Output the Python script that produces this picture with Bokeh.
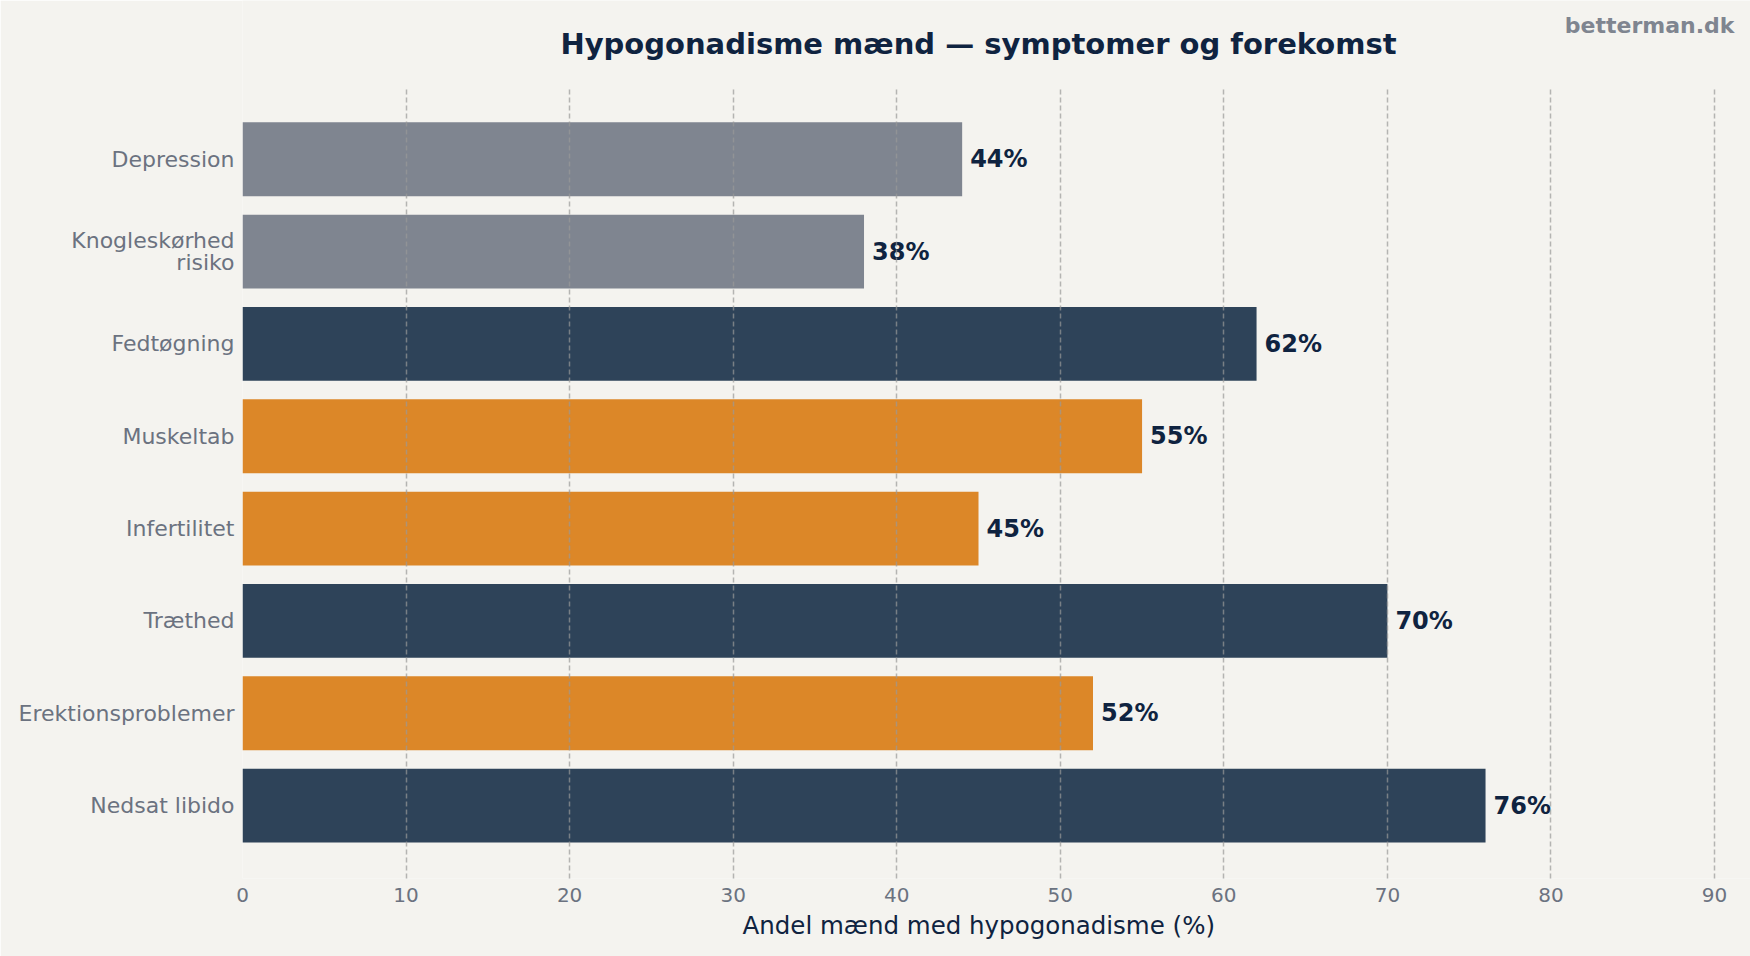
from bokeh.plotting import figure
from bokeh.models import Range1d, FixedTicker, Label, Title, ColumnDataSource
from bokeh.core.properties import value
from bokeh.embed import file_html
from bokeh.resources import INLINE

# ---- data (bottom to top) ----
categories = ["Nedsat libido", "Erektionsproblemer", "Træthed", "Infertilitet",
              "Muskeltab", "Fedtøgning", "Knogleskørhed\nrisiko", "Depression"]
values = [76, 52, 70, 45, 55, 62, 38, 44]
groups = ["primær", "reproduktiv", "primær", "reproduktiv",
          "reproduktiv", "primær", "sekundær", "sekundær"]
x_ticks = [0, 10, 20, 30, 40, 50, 60, 70, 80, 90]

title_text = "Hypogonadisme mænd — symptomer og forekomst"
x_label = "Andel mænd med hypogonadisme (%)"
watermark = "betterman.dk"

group_colors = {"primær": "#2E4359", "reproduktiv": "#DC8728", "sekundær": "#7F8590"}

BG = "#F4F3EF"
NAVY = "#0F2340"
GRAY_TXT = "#6B7280"
FONT = "DejaVu Sans"

ypos = list(range(len(categories)))
src = ColumnDataSource(dict(
    y=ypos,
    v=values,
    color=[group_colors[g] for g in groups],
    label=[f"{v}%" for v in values],
))

# plot area spans -0.79 .. 7.79 in y and 0 .. 90 in x; the frame is extended
# to the canvas edges so the title/watermark can sit inside it
y_lo, y_hi = -0.79, len(categories) - 1 + 0.79
x_lo, x_hi = 0, 90
p = figure(width=1750, height=956, output_backend="svg", toolbar_location=None,
           x_range=Range1d(x_lo, 92.2), y_range=Range1d(y_lo, 8.72),
           min_border_left=242, min_border_right=0, min_border_top=0, min_border_bottom=78,
           background_fill_color=BG, border_fill_color=BG, outline_line_color=None)

p.hbar(y="y", right="v", left=0, height=0.8, fill_color="color", line_color=None, source=src)

p.text(x="v", y="y", text="label", x_offset=8, text_baseline="middle", text_align="left",
       text_font=value(FONT), text_font_style="bold", text_font_size="24px",
       text_color=NAVY, source=src)

# grid
p.ygrid.grid_line_color = None
p.xgrid.ticker = FixedTicker(ticks=x_ticks)
p.xgrid.cross_bounds = (y_lo, y_hi)
p.xgrid.grid_line_color = "#999999"
p.xgrid.grid_line_alpha = 0.7
p.xgrid.grid_line_width = 1.5
p.xgrid.grid_line_dash = "5 3"
p.xgrid.level = "overlay"

# x axis
xa = p.xaxis[0]
xa.ticker = FixedTicker(ticks=x_ticks)
xa.bounds = (x_lo, x_hi)
xa.axis_line_color = None
xa.major_tick_line_color = None
xa.minor_tick_line_color = None
xa.major_label_text_font = FONT
xa.major_label_text_font_size = "20px"
xa.major_label_text_color = GRAY_TXT
xa.major_label_standoff = 3

# x axis title, placed under the middle of the 0..90 span
p.add_layout(Title(text=x_label, align="left", offset=500, text_font=FONT,
                   text_font_size="24.5px", text_font_style="normal",
                   text_color=NAVY, standoff=9), "below")

# y axis
ya = p.yaxis[0]
ya.ticker = FixedTicker(ticks=ypos)
ya.bounds = (y_lo, y_hi)
ya.major_label_overrides = {i: c for i, c in zip(ypos, categories)}
ya.axis_line_color = None
ya.major_tick_line_color = None
ya.minor_tick_line_color = None
ya.major_label_text_font = FONT
ya.major_label_text_font_size = "22px"
ya.major_label_text_color = GRAY_TXT
ya.major_label_text_line_height = 0.85
ya.major_label_standoff = 2

# title + watermark
p.add_layout(Label(x=45, y=8.245, text=title_text,
                   text_align="center", text_baseline="middle", text_font=FONT,
                   text_font_size="29px", text_font_style="bold", text_color=NAVY))
p.add_layout(Label(x=91.22, y=8.45, text=watermark,
                   text_align="right", text_baseline="middle", text_font=FONT,
                   text_font_size="22px", text_font_style="bold", text_color="#7F8590"))

open("out.html", "w").write(file_html(p, INLINE))
